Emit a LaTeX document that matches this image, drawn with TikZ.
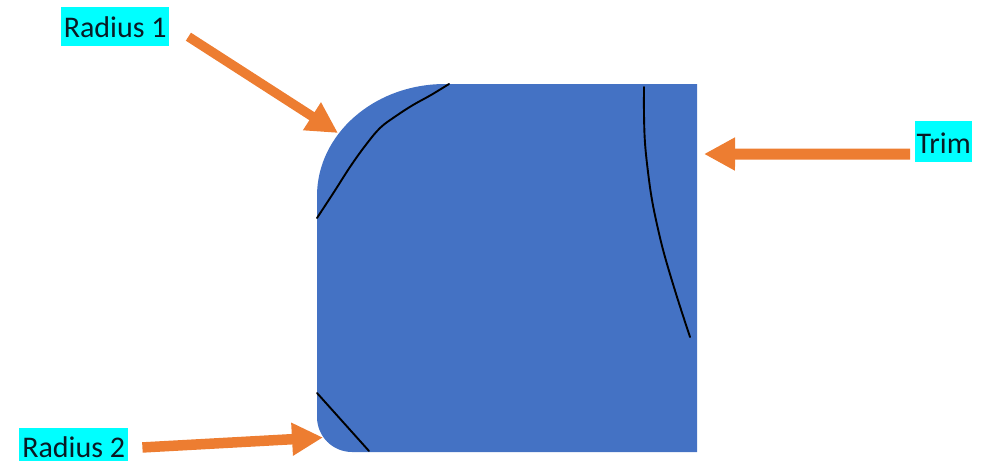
\documentclass[tikz,border=0pt]{standalone}
\usepackage{fontspec}
\setmainfont{Carlito}
\usetikzlibrary{arrows.meta}
\definecolor{plateblue}{HTML}{4472C4}
\definecolor{arroworange}{HTML}{ED7D31}
\definecolor{labelcyan}{HTML}{00FFFF}
\definecolor{labeltext}{HTML}{0A1A24}
\tikzset{
  tag/.style={fill=labelcyan, text=labeltext, inner sep=0pt, anchor=north west, align=center,
    font=\fontsize{30}{30}\selectfont},
  pointer/.style={draw=arroworange, line width=#1,
    -{Triangle[length=31pt,width=31pt,fill=arroworange]}},
  pointer/.default=11pt,
  mark line/.style={draw=black, line width=1.9pt, line cap=round, line join=round}
}
\begin{document}
\begin{tikzpicture}[x=1pt,y=-1pt]
\useasboundingbox (0,0) rectangle (984,461);
% plate
\fill[plateblue] (317,196) arc[start angle=180,end angle=90,x radius=128,y radius=-112]
  -- (697,84) -- (697,452) -- (352,452)
  arc[start angle=270,end angle=180,x radius=35,y radius=-35] -- cycle;
% cut marks
\draw[mark line] plot[smooth,tension=0.6] coordinates {(317,218) (334,192) (350,167) (365,146) (380,128) (396,116) (413,105) (431,95) (449,84)};
\draw[mark line] plot[smooth,tension=0.6] coordinates {(644,87) (644,115) (645,143) (648,172) (652,200) (658,229) (665,257) (677,297) (690,337)};
\draw[mark line] (317,393) -- (369,451);
% labels
\node[tag, minimum width=108pt, text height=30pt, text depth=9pt] (radone) at (61,7) {Radius 1};
\node[tag, minimum width=109pt, text height=29pt, text depth=3.5pt] (radtwo) at (19,428) {Radius 2};
\node[tag, minimum width=57pt, text height=32pt, text depth=9pt] (trim) at (915,121) {Trim};
% targets
\coordinate (radonetip) at (338,133);
\coordinate (radtwotip) at (323,437.5);
\coordinate (trimtip) at (704,154);
% arrows
\draw[pointer=9.5pt] ([shift={(19,10)}]radone.east) -- (radonetip);
\draw[pointer=10.5pt] ([shift={(14,3)}]radtwo.east) -- (radtwotip);
\draw[pointer=11pt] ([shift={(-5,12.5)}]trim.west) -- (trimtip);
\end{tikzpicture}
\end{document}
